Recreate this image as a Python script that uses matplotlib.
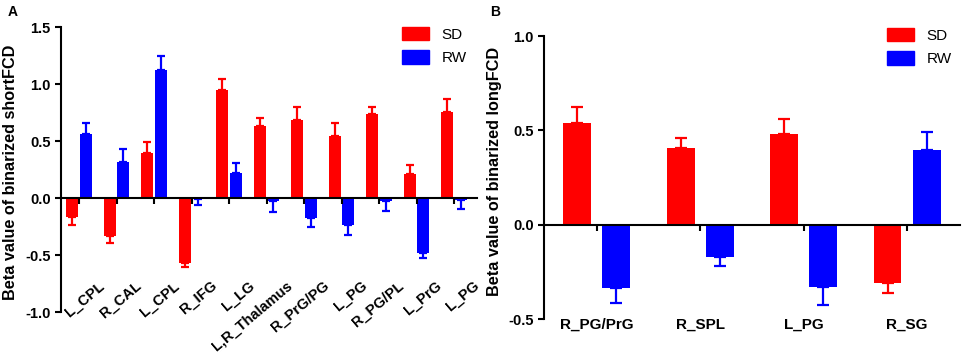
import matplotlib
matplotlib.use("Agg")
import matplotlib.pyplot as plt
import matplotlib.patches as mpatches
import numpy as np

plt.rcParams['font.family'] = ['Liberation Sans', 'DejaVu Sans']

# panel A: short-range FCD
regions_a = ["L_CPL", "R_CAL", "L_CPL", "R_IFG", "L_LG", "L,R_Thalamus",
             "R_PrG/PG", "L_PG", "R_PG/PL", "L_PrG", "L_PG"]
sd_a = [-0.167, -0.333, 0.398, -0.567, 0.945, 0.635, 0.688, 0.547, 0.74, 0.208, 0.755]
sd_a_err = [0.066, 0.062, 0.092, 0.038, 0.099, 0.07, 0.112, 0.114, 0.06, 0.079, 0.111]
rw_a = [0.565, 0.316, 1.126, -0.01, 0.22, -0.03, -0.172, -0.237, -0.03, -0.479, -0.02]
rw_a_err = [0.095, 0.111, 0.123, 0.05, 0.084, 0.09, 0.085, 0.09, 0.084, 0.047, 0.08]

# panel B: long-range FCD
regions_b = ["R_PG/PrG", "R_SPL", "L_PG", "R_SG"]
sd_b = [0.541, 0.409, 0.483, -0.31]
sd_b_err = [0.083, 0.048, 0.079, 0.053]
rw_b = [-0.335, -0.169, -0.332, 0.398]
rw_b_err = [0.081, 0.048, 0.093, 0.094]

RED = "#ff0000"
BLUE = "#0000ff"


def one_sided(vals, errs):
    # error bar only pointing away from zero
    vals = np.array(vals)
    errs = np.array(errs)
    lower = np.where(vals < 0, errs, 0)
    upper = np.where(vals >= 0, errs, 0)
    return [lower, upper]


def draw_panel(ax, sd, sd_err, rw, rw_err, width, offset, capsize):
    x = np.arange(len(sd))
    ax.bar(x - offset, sd, width, color=RED, yerr=one_sided(sd, sd_err),
           error_kw=dict(ecolor=RED, elinewidth=1.6, capsize=capsize, capthick=1.6))
    ax.bar(x + offset, rw, width, color=BLUE, yerr=one_sided(rw, rw_err),
           error_kw=dict(ecolor=BLUE, elinewidth=1.6, capsize=capsize, capthick=1.6))
    ax.spines['top'].set_visible(False)
    ax.spines['right'].set_visible(False)
    ax.spines['bottom'].set_position(('data', 0))
    ax.spines['left'].set_linewidth(1.5)
    ax.spines['bottom'].set_linewidth(1.5)
    ax.set_xticks(x)
    ax.set_xticklabels([])
    ax.tick_params(axis='both', direction='out', length=4, width=1.5)
    handles = [mpatches.Patch(color=RED, label="SD"), mpatches.Patch(color=BLUE, label="RW")]
    return x, handles


fig = plt.figure(figsize=(9.64, 3.57), dpi=100)
leg_kw = dict(frameon=False, fontsize=11, handlelength=1.8, handleheight=0.95,
              labelspacing=0.55, handletextpad=0.8, borderpad=0, borderaxespad=0)

# ---- A ----
axA = fig.add_axes([0.0633, 0.126, 0.4315, 0.798])
xa, handles = draw_panel(axA, sd_a, sd_a_err, rw_a, rw_a_err, 0.32, 0.18, 3.2)
axA.set_xlim(-0.48, 10.61)
axA.set_ylim(-1.0, 1.5)
axA.set_yticks([-1.0, -0.5, 0.0, 0.5, 1.0, 1.5])
axA.set_yticklabels(["-1.0", "-0.5", "0.0", "0.5", "1.0", "1.5"], fontweight='bold', fontsize=10.5)
for i, name in zip(xa, regions_a):
    axA.text(i + 0.69, -0.78, name, rotation=40, rotation_mode='anchor',
             ha='right', va='baseline', fontsize=10.5, fontweight='bold')
axA.set_ylabel("Beta value of binarized shortFCD", fontsize=11.7, fontweight='bold')
axA.yaxis.set_label_coords(-0.103, 0.49)
axA.legend(handles=handles, loc='upper right', bbox_to_anchor=(0.975, 1.0), **leg_kw)
fig.text(0.008, 0.955, "A", fontsize=10, fontweight='bold')

# ---- B ----
axB = fig.add_axes([0.5643, 0.1064, 0.4315, 0.7927])
xb, handles = draw_panel(axB, sd_b, sd_b_err, rw_b, rw_b_err, 0.27, 0.19, 4.0)
axB.set_xlim(-0.51, 3.51)
axB.set_ylim(-0.5, 1.0)
axB.set_yticks([-0.5, 0.0, 0.5, 1.0])
axB.set_yticklabels(["-0.5", "0.0", "0.5", "1.0"], fontweight='bold', fontsize=10.5)
for i, name in zip(xb, regions_b):
    axB.text(i, -0.53, name, ha='center', va='center', fontsize=11, fontweight='bold')
axB.set_ylabel("Beta value of binarized longFCD", fontsize=11.7, fontweight='bold')
axB.yaxis.set_label_coords(-0.101, 0.52)
axB.legend(handles=handles, loc='upper right', bbox_to_anchor=(0.98, 1.028), **leg_kw)
fig.text(0.508, 0.955, "B", fontsize=10, fontweight='bold')

fig.savefig("out.png", dpi=100)
